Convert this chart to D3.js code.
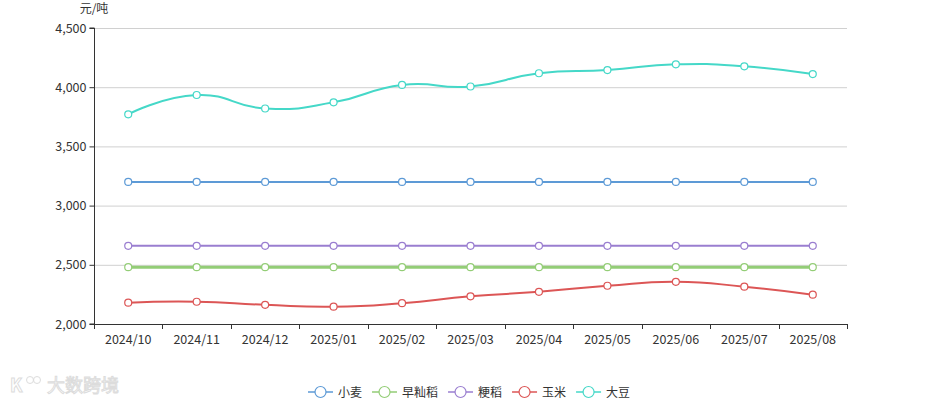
<!DOCTYPE html>
<html><head><meta charset="utf-8">
<script src="https://cdn.jsdelivr.net/npm/d3@7/dist/d3.min.js"></script>
<style>
body{margin:0;background:#fff;}
svg{display:block;font-family:"Noto Sans CJK SC","Noto Sans",sans-serif;}
</style></head>
<body><svg id="c" width="940" height="405"></svg>
<script>
const categories = ["2024/10","2024/11","2024/12","2025/01","2025/02","2025/03","2025/04","2025/05","2025/06","2025/07","2025/08"];
const seriesNames = ["小麦","早籼稻","粳稻","玉米","大豆"];
const wheat   = [3200,3200,3200,3200,3200,3200,3200,3200,3200,3200,3200];
const earlyRice = [2480,2480,2480,2480,2480,2480,2480,2480,2480,2480,2480];
const japonica = [2660,2660,2660,2660,2660,2660,2660,2660,2660,2660,2660];
const corn    = [2180,2188,2162,2146,2176,2234,2272,2323,2356,2315,2248];
const soybean = [3771,3934,3820,3872,4019,4006,4118,4145,4193,4176,4111];
const yTicks = [2000,2500,3000,3500,4000,4500];
const colors = ["#5d9ad6","#93cd76","#9a7ed0","#dc5656","#45d8c8"];
const yUnit = "元/吨";

const series = [wheat, earlyRice, japonica, corn, soybean];
const svg = d3.select("#c");
const L = 94, R = 847, T = 28, B = 324;
const x = d3.scaleBand().domain(categories).range([L, R]);
const y = d3.scaleLinear().domain([2000, 4500]).range([B, T]);
const fmt = d3.format(",");
const ff = '"Noto Sans CJK SC","Noto Sans",sans-serif';

// grid
svg.append("g").selectAll("line").data(yTicks.filter(d => d > 2000)).join("line")
  .attr("x1", L).attr("x2", R).attr("y1", d => y(d) + 0.5).attr("y2", d => y(d) + 0.5)
  .attr("stroke", "#d0d0d0").attr("stroke-width", 1);

// y axis
const ya = svg.append("g").attr("transform", `translate(${L + 0.5},0)`)
  .call(d3.axisLeft(y).tickValues(yTicks).tickFormat(fmt).tickSize(5).tickPadding(3));
ya.select(".domain").attr("stroke", "#333").attr("d", `M-5,${T}H0V${B}H-5`);
ya.selectAll(".tick line").attr("stroke", "#333");
ya.selectAll(".tick text").attr("fill", "#333").attr("font-size", 12.5).style("font-family", ff);

svg.append("text").attr("x", L).attr("y", 13).attr("text-anchor", "middle")
  .attr("font-size", 12).attr("fill", "#333").text(yUnit);

// x axis
const xa = svg.append("g").attr("transform", `translate(0,${B + 0.5})`)
  .call(d3.axisBottom(x).tickSize(0).tickPadding(11));
xa.select(".domain").attr("stroke", "#333").attr("d", `M${L},0H${R}`);
xa.selectAll(".tick text").attr("fill", "#333").attr("font-size", 12.5).style("font-family", ff);
const bounds = categories.map(c => x(c)).concat([R]);
svg.append("g").selectAll("line").data(bounds).join("line")
  .attr("x1", d => Math.round(d) + 0.5).attr("x2", d => Math.round(d) + 0.5)
  .attr("y1", B).attr("y2", B + 5).attr("stroke", "#333");

const cx = c => x(c) + x.bandwidth() / 2;
const line = d3.line().x((d, i) => cx(categories[i])).y(d => y(d)).curve(d3.curveCardinal.tension(-0.5));

series.forEach((s, k) => {
  svg.append("path").attr("d", line(s)).attr("fill", "none")
    .attr("stroke", colors[k]).attr("stroke-width", k === 1 ? 3 : 2);
});
series.forEach((s, k) => {
  svg.append("g").selectAll("circle").data(s).join("circle")
    .attr("cx", (d, i) => cx(categories[i])).attr("cy", d => y(d)).attr("r", 3.5)
    .attr("fill", "#fff").attr("stroke", colors[k]).attr("stroke-width", 1.2);
});

// legend
const leg = svg.append("g");
let lx = 308;
const ly = 392;
seriesNames.forEach((n, k) => {
  const g = leg.append("g");
  g.append("line").attr("x1", lx).attr("x2", lx + 25).attr("y1", ly).attr("y2", ly)
    .attr("stroke", colors[k]).attr("stroke-width", 1.5);
  g.append("circle").attr("cx", lx + 12.5).attr("cy", ly).attr("r", 5.5)
    .attr("fill", "#fff").attr("stroke", colors[k]).attr("stroke-width", 1.2);
  const t = g.append("text").attr("x", lx + 30).attr("y", ly + 4.5).attr("font-size", 12)
    .attr("fill", "#333").text(n);
  lx += 30 + t.node().getComputedTextLength() + 10;
});

// watermark
const wm = svg.append("g").attr("opacity", 0.5);
wm.append("text").attr("x", 10).attr("y", 392).attr("font-size", 18).attr("font-weight", "bold")
  .attr("fill", "#fff").attr("stroke", "#bbb").attr("stroke-width", 1).text("K");
wm.append("circle").attr("cx", 30).attr("cy", 380).attr("r", 3.5).attr("fill", "none").attr("stroke", "#bbb");
wm.append("circle").attr("cx", 37).attr("cy", 380).attr("r", 3.5).attr("fill", "none").attr("stroke", "#bbb");
wm.append("text").attr("x", 47).attr("y", 392).attr("font-size", 18)
  .attr("fill", "#fff").attr("stroke", "#bbb").attr("stroke-width", 1).text("大数跨境");
</script></body></html>
